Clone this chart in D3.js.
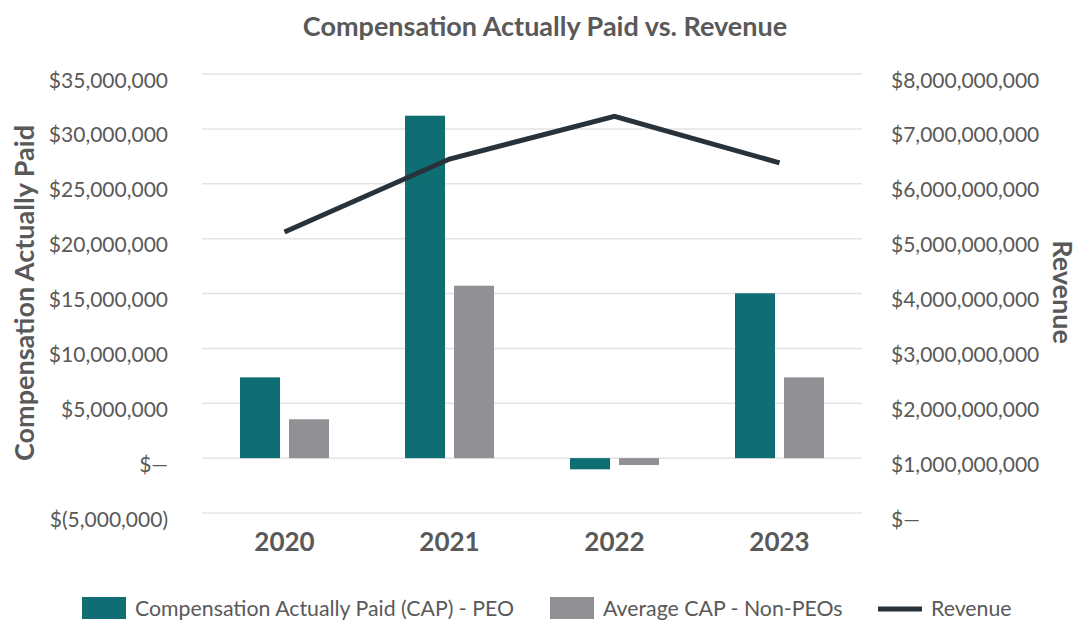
<!DOCTYPE html>
<html>
<head>
<meta charset="utf-8">
<script src="https://cdn.jsdelivr.net/npm/d3@7"></script>
<style>
  body { margin: 0; background: #fff; }
  svg text { font-family: Lato, "Open Sans", sans-serif; }
</style>
</head>
<body>
<svg id="chart" width="1078" height="620"></svg>
<script>
// chart values
var years = ["2020", "2021", "2022", "2023"];
var capPeo = [7360000, 31200000, -1020000, 15020000];
var capNonPeo = [3540000, 15710000, -630000, 7360000];
var revenue = [5120000000, 6450000000, 7230000000, 6380000000];
var leftTicks = [-5000000, 0, 5000000, 10000000, 15000000, 20000000, 25000000, 30000000, 35000000];
var rightTicks = [0, 1000000000, 2000000000, 3000000000, 4000000000, 5000000000, 6000000000, 7000000000, 8000000000];
var legendLabels = ["Compensation Actually Paid (CAP) - PEO", "Average CAP - Non-PEOs", "Revenue"];

var teal = "#0e6e74", grey = "#919094", dark = "#27323a", txt = "#595959";

var svg = d3.select("#chart");
var plotL = 202, plotR = 862, plotT = 74, plotB = 513;

var x = d3.scaleBand().domain(years).range([plotL, plotR]);
var yL = d3.scaleLinear().domain([-5000000, 35000000]).range([plotB, plotT]);
var yR = d3.scaleLinear().domain([0, 8000000000]).range([plotB, plotT]);

function money(d) {
    if (d == 0) return "$\u2014";
    if (d < 0) return "$(" + d3.format(",")(-d) + ")";
    return "$" + d3.format(",")(d);
}

// gridlines
svg.append("g").selectAll("line")
    .data(leftTicks)
    .enter().append("line")
    .attr("x1", plotL).attr("x2", plotR)
    .attr("y1", function (d) { return yL(d); })
    .attr("y2", function (d) { return yL(d); })
    .attr("stroke", "#e3e3e3")
    .attr("stroke-width", 1.5);

// left axis
var leftAxis = svg.append("g")
    .attr("transform", "translate(" + plotL + ",0)")
    .call(d3.axisLeft(yL).tickValues(leftTicks).tickFormat(money).tickSize(0).tickPadding(34));
leftAxis.select(".domain").remove();
leftAxis.selectAll("text")
    .attr("fill", txt).style("font-size", "21px").attr("dy", "0.62em");

// right axis
var rightAxis = svg.append("g")
    .attr("transform", "translate(" + plotR + ",0)")
    .call(d3.axisRight(yR).tickValues(rightTicks).tickFormat(money).tickSize(0).tickPadding(29));
rightAxis.select(".domain").remove();
rightAxis.selectAll("text")
    .attr("fill", txt).style("font-size", "21px").attr("dy", "0.62em");

// bars
var barW = 40, gap = 9;
svg.append("g").selectAll("rect")
    .data(capPeo)
    .enter().append("rect")
    .attr("x", function (d, i) { return x(years[i]) + x.bandwidth() / 2 - gap / 2 - barW; })
    .attr("width", barW)
    .attr("y", function (d) { return Math.min(yL(d), yL(0)); })
    .attr("height", function (d) { return Math.abs(yL(d) - yL(0)); })
    .attr("fill", teal);

svg.append("g").selectAll("rect")
    .data(capNonPeo)
    .enter().append("rect")
    .attr("x", function (d, i) { return x(years[i]) + x.bandwidth() / 2 + gap / 2; })
    .attr("width", barW)
    .attr("y", function (d) { return Math.min(yL(d), yL(0)); })
    .attr("height", function (d) { return Math.abs(yL(d) - yL(0)); })
    .attr("fill", grey);

// revenue line
var line = d3.line()
    .x(function (d, i) { return x(years[i]) + x.bandwidth() / 2; })
    .y(function (d) { return yR(d); });
svg.append("path")
    .datum(revenue)
    .attr("d", line)
    .attr("fill", "none")
    .attr("stroke", dark)
    .attr("stroke-width", 5);

// x labels
var xAxis = svg.append("g")
    .attr("transform", "translate(0," + plotB + ")")
    .call(d3.axisBottom(x).tickSize(0).tickPadding(20));
xAxis.select(".domain").remove();
xAxis.selectAll("text")
    .attr("fill", txt).style("font-size", "26px").style("font-weight", "bold");

// titles
svg.append("text")
    .attr("x", 545).attr("y", 36)
    .attr("text-anchor", "middle")
    .attr("fill", txt)
    .style("font-size", "27px").style("font-weight", "bold")
    .text("Compensation Actually Paid vs. Revenue");

svg.append("text")
    .attr("transform", "translate(34,293) rotate(-90)")
    .attr("text-anchor", "middle")
    .attr("fill", txt)
    .style("font-size", "27px").style("font-weight", "bold")
    .text("Compensation Actually Paid");

svg.append("text")
    .attr("transform", "translate(1053,292) rotate(90)")
    .attr("text-anchor", "middle")
    .attr("fill", txt)
    .style("font-size", "27px").style("font-weight", "bold")
    .text("Revenue");

// legend
var legendX = [82, 550, 878];
var legend = svg.append("g").selectAll("g")
    .data(legendLabels)
    .enter().append("g")
    .attr("transform", function (d, i) { return "translate(" + legendX[i] + ",608)"; });

legend.each(function (d, i) {
    var g = d3.select(this);
    if (i < 2) {
        g.append("rect").attr("x", 0).attr("y", -11).attr("width", 44).attr("height", 22)
            .attr("fill", i == 0 ? teal : grey);
    } else {
        g.append("line").attr("x1", 0).attr("x2", 44).attr("y1", 1).attr("y2", 1)
            .attr("stroke", dark).attr("stroke-width", 5);
    }
    g.append("text")
        .attr("x", 53)
        .attr("y", 8)
        .attr("fill", txt)
        .style("font-size", "21.3px")
        .text(d);
});
</script>
</body>
</html>
